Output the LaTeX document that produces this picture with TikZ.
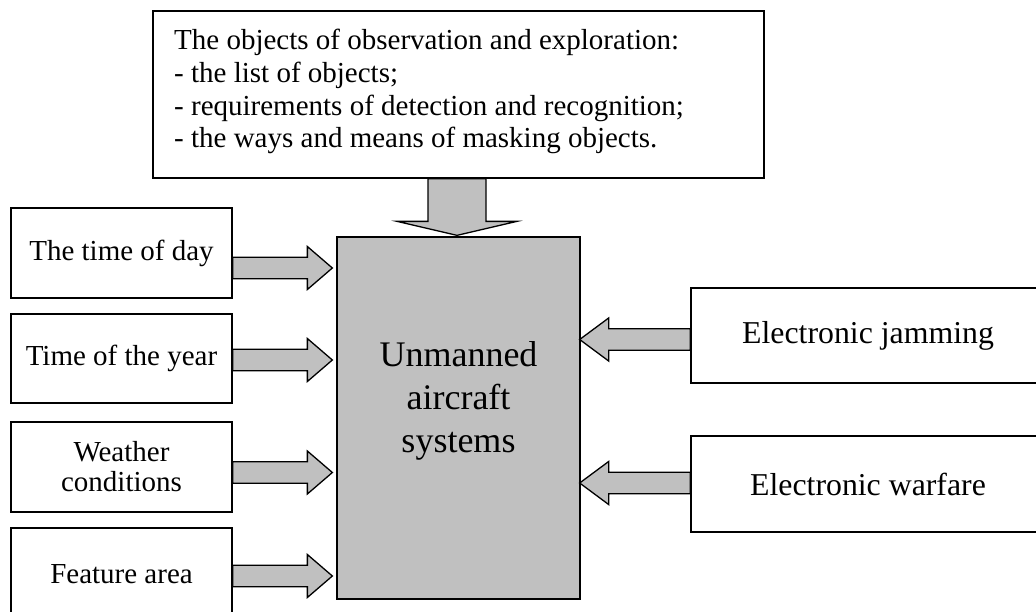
\documentclass[tikz,border=0pt]{standalone}
\usepackage{fontspec}
\setmainfont{Liberation Serif}
\usetikzlibrary{calc}
\definecolor{boxgray}{RGB}{192,192,192}
\tikzset{
  box/.style={draw=black, line width=1.3pt, fill=white, inner sep=0pt, align=center,
              font=\fontsize{29}{30}\selectfont},
  rbox/.style={box, font=\fontsize{31.8}{33}\selectfont},
  uasbox/.style={draw=black, line width=1.3pt, fill=boxgray, inner sep=0pt},
  barrow/.style={draw=black, line width=1.3pt, fill=boxgray, line join=miter},
}
% horizontal block arrow: #1 start, #2 tip, #3 signed head length
\newcommand\hblockarrow[3]{%
  \draw[barrow] ($(#1)+(0,-10.8)$) -- ($(#2)+(#3,-10.8)$) -- ($(#2)+(#3,-21.5)$) -- (#2)
    -- ($(#2)+(#3,21.5)$) -- ($(#2)+(#3,10.8)$) -- ($(#1)+(0,10.8)$) -- cycle;}
\begin{document}
\begin{tikzpicture}[x=1pt,y=-1pt]
\useasboundingbox (0,0) rectangle (1036,611);

% top box
\node[box, minimum width=611pt, minimum height=167pt] (top) at (458.5,94.5) {};
\node[anchor=north west, inner sep=0pt, align=left, font=\fontsize{29}{32.7}\selectfont] (toptext) at (174,29)
  {The objects of observation and exploration:\\
   - the list of objects;\\
   - requirements of detection and recognition;\\
   - the ways and means of masking objects.};

% central box
\node[uasbox, minimum width=243pt, minimum height=362pt] (uas) at (458.5,418) {};
\node[align=center, inner sep=0pt, font=\fontsize{36}{43}\selectfont] (uastext) at (458.5,401)
  {Unmanned\\aircraft\\systems};

% left boxes
\node[box, minimum width=221pt, minimum height=90pt] (b1) at (121.5,253) {The time of day};
\node[box, minimum width=221pt, minimum height=89pt] (b2) at (121.5,358.5) {Time of the year};
\node[box, minimum width=221pt, minimum height=90pt] (b3) at (121.5,467) {Weather\\conditions};
\node[box, minimum width=221pt, minimum height=92pt] (b4) at (121.5,574) {Feature area};

% right boxes
\node[rbox, minimum width=354pt, minimum height=95pt] (r1) at (868,335.5) {Electronic jamming};
\node[rbox, minimum width=354pt, minimum height=96pt] (r2) at (868,484) {Electronic warfare};

% arrow end points
\coordinate (s1) at (b1.east |- 0,268);
\coordinate (t1) at ($(uas.west |- 0,268)+(-4,0)$);
\coordinate (s2) at (b2.east |- 0,360);
\coordinate (t2) at ($(uas.west |- 0,360)+(-4,0)$);
\coordinate (s3) at (b3.east |- 0,472.5);
\coordinate (t3) at ($(uas.west |- 0,472.5)+(-4,0)$);
\coordinate (s4) at (b4.east |- 0,576);
\coordinate (t4) at ($(uas.west |- 0,576)+(-4,0)$);
\coordinate (s5) at (r1.west |- 0,339.5);
\coordinate (t5) at ($(uas.east |- 0,339.5)+(-1,0)$);
\coordinate (s6) at (r2.west |- 0,483);
\coordinate (t6) at ($(uas.east |- 0,483)+(-1,0)$);
\coordinate (s7) at (top.south);
\coordinate (t7) at ($(uas.north)+(-1.5,-1)$);

\hblockarrow{s1}{t1}{-25}
\hblockarrow{s2}{t2}{-25}
\hblockarrow{s3}{t3}{-25}
\hblockarrow{s4}{t4}{-25}
\hblockarrow{s5}{t5}{29}
\hblockarrow{s6}{t6}{29}

% top block arrow
\draw[barrow] ($(s7 -| t7)+(-29,0)$) -- ($(t7)+(-29,-14)$) -- ($(t7)+(-60,-14)$) -- (t7)
  -- ($(t7)+(60,-14)$) -- ($(t7)+(29,-14)$) -- ($(s7 -| t7)+(29,0)$) -- cycle;
\end{tikzpicture}
\end{document}
